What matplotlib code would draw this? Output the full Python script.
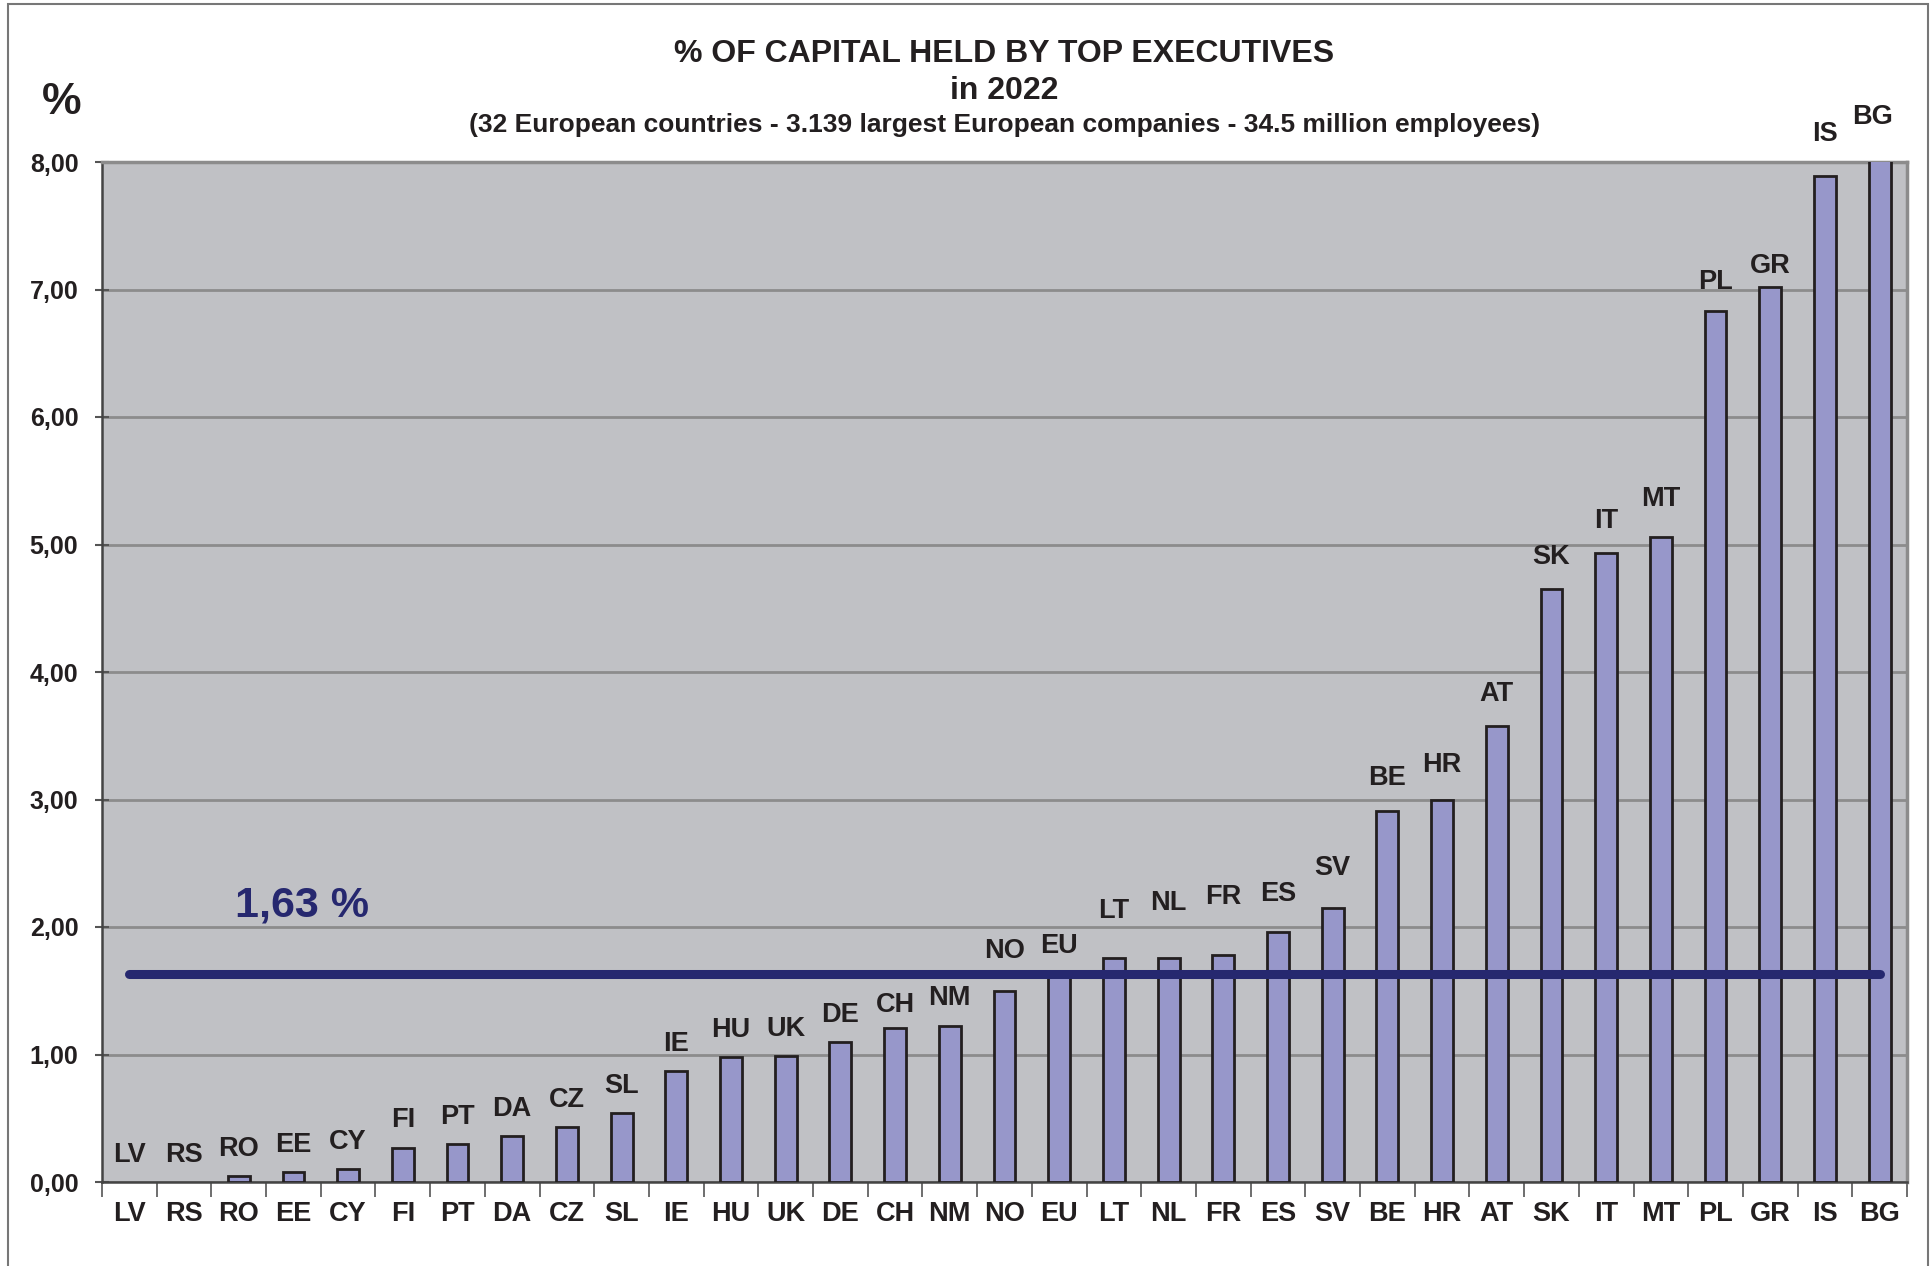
import matplotlib
matplotlib.use("Agg")
import matplotlib.pyplot as plt
from matplotlib.patches import Rectangle
import numpy as np

plt.rcParams['font.family'] = ['Liberation Sans', 'DejaVu Sans']

# Countries, sorted by share of capital held by top executives (%)
countries = ['LV', 'RS', 'RO', 'EE', 'CY', 'FI', 'PT', 'DA', 'CZ', 'SL', 'IE',
             'HU', 'UK', 'DE', 'CH', 'NM', 'NO', 'EU', 'LT', 'NL', 'FR', 'ES',
             'SV', 'BE', 'HR', 'AT', 'SK', 'IT', 'MT', 'PL', 'GR', 'IS', 'BG']
values = [0.00, 0.00, 0.05, 0.08, 0.10, 0.27, 0.30, 0.36, 0.43, 0.54, 0.87,
          0.98, 0.99, 1.10, 1.21, 1.22, 1.50, 1.64, 1.76, 1.76, 1.78, 1.96,
          2.15, 2.91, 3.00, 3.58, 4.65, 4.93, 5.06, 6.83, 7.02, 7.89, 8.05]
average = 1.63
average_label = '1,63 %'

title_lines = ['% OF CAPITAL HELD BY TOP EXECUTIVES', 'in 2022',
               '(32 European countries - 3.139 largest European companies - 34.5 million employees)']

# extra lift (points) for some bar labels, as placed in the original
label_nudge = {'NO': 9, 'LT': 14, 'NL': 20, 'FR': 22, 'ES': 8, 'SV': 9,
               'BE': 4, 'HR': 5, 'AT': 3, 'SK': 3.5, 'IT': 4, 'MT': 8,
               'PL': 1.5, 'GR': -4.5, 'IS': 10.5, 'BG': 13, 'CH': -3, 'NM': 1}
label_shift_x = {'BG': -5}

TEXT = '#231F20'
BAR = '#9797CA'
NAVY = '#26286F'

fig = plt.figure(figsize=(19.32, 12.66), dpi=100)
ax = fig.add_axes([102 / 1932, 84 / 1266, 1805 / 1932, 1020 / 1266])
ax.set_facecolor('#C0C1C5')

x = np.arange(len(countries))
bars = ax.bar(x, values, width=0.40, color=BAR, edgecolor=TEXT,
              linewidth=2.0, zorder=3)
for b, v in zip(bars, values):
    if v == 0:
        b.set_visible(False)

ax.plot([x[0], x[-1]], [average, average], color=NAVY, lw=6.5,
        solid_capstyle='round', zorder=4)
ax.text(3.16, 2.17, average_label, color=NAVY, fontsize=31, fontweight='bold',
        ha='center', va='center', zorder=5)

for xi, c, v in zip(x, countries, values):
    ax.annotate(c, (xi, min(v, 8.0)),
                xytext=(label_shift_x.get(c, 0), 19.5 + label_nudge.get(c, 0)),
                textcoords='offset points', ha='center', va='center',
                fontsize=19.5, fontweight='bold', color=TEXT,
                annotation_clip=False, zorder=5)

ax.set_xlim(-0.5, len(countries) - 0.5)
ax.set_ylim(0, 8)
ax.set_yticks(np.arange(0, 9, 1))
ax.set_yticklabels([f'{v:.2f}'.replace('.', ',') for v in np.arange(0, 9, 1)])
ax.yaxis.grid(True, color='#8C8C8C', lw=2.0, zorder=1)
ax.set_axisbelow(True)

ax.set_xticks(x)
ax.set_xticklabels(countries)
ax.set_xticks(np.arange(-0.5, len(countries)), minor=True)
ax.tick_params(axis='x', which='major', length=0, pad=14, labelsize=19.5,
               labelcolor=TEXT)
ax.tick_params(axis='x', which='minor', length=11, width=1.2, direction='out',
               color='#555555')
ax.tick_params(axis='y', length=10, width=1.5, direction='inout', pad=12,
               labelsize=18, labelcolor=TEXT, color='#555555')
for lab in ax.get_xticklabels() + ax.get_yticklabels():
    lab.set_fontweight('bold')

for side in ['top', 'right']:
    ax.spines[side].set_color('#8C8C8C')
    ax.spines[side].set_linewidth(2.5)
for side in ['left', 'bottom']:
    ax.spines[side].set_color('#444444')
    ax.spines[side].set_linewidth(1.8)

ax_center = (102 + 1907) / 2 / 1932
fig.text(ax_center, 1 - 54 / 1266, title_lines[0], ha='center', va='center',
         fontsize=23, fontweight='bold', color=TEXT)
fig.text(ax_center, 1 - 91 / 1266, title_lines[1], ha='center', va='center',
         fontsize=23, fontweight='bold', color=TEXT)
fig.text(ax_center, 1 - 125 / 1266, title_lines[2], ha='center', va='center',
         fontsize=19, fontweight='bold', color=TEXT)
fig.text(62 / 1932, 1 - 103 / 1266, '%', ha='center', va='center',
         fontsize=32, fontweight='bold', color=TEXT)

# outer frame
fig.patches.append(Rectangle((8 / 1932, -0.02), 1920 / 1932, 1.02 - 4 / 1266,
                             transform=fig.transFigure, fill=False,
                             edgecolor='#777777', lw=1.5))

fig.savefig('out.png', dpi=100, facecolor='white')
